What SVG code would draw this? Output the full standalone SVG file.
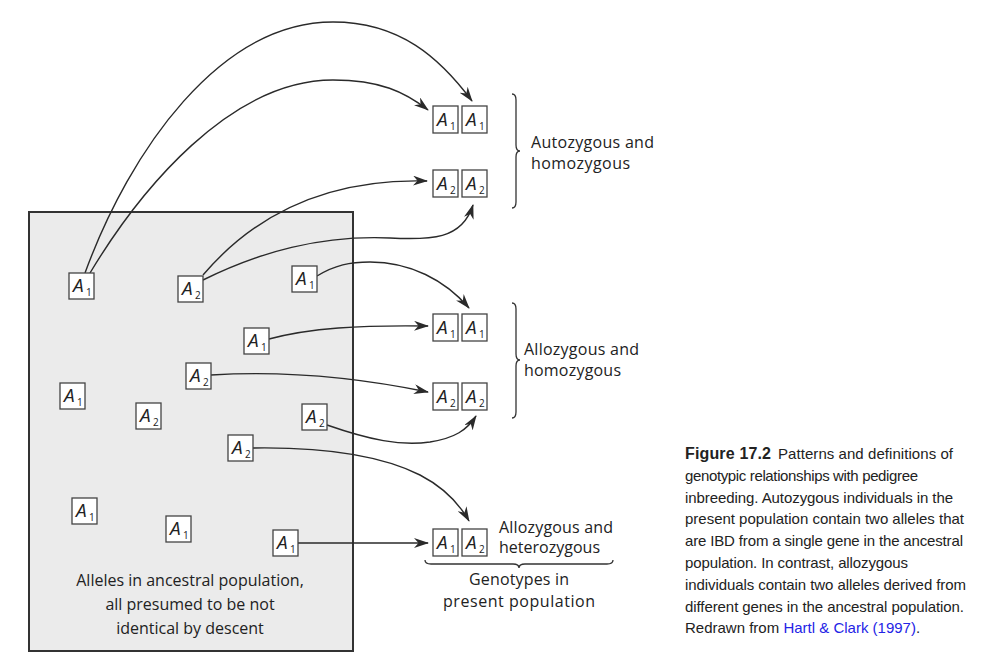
<svg xmlns="http://www.w3.org/2000/svg" width="997" height="670" viewBox="0 0 997 670">
<defs>
<marker id="ah" viewBox="0 0 15 10" refX="14" refY="5" markerWidth="15" markerHeight="10" markerUnits="userSpaceOnUse" orient="auto">
<path d="M0,0 L15,5 L0,10 L4.5,5 Z" fill="#2a2a2a"/>
</marker>
<style>
.bg{fill:#ebebeb;stroke:#333;stroke-width:2}
.box{fill:#fff;stroke:#444;stroke-width:1.3}
.al{font-family:"Open Sans","Liberation Sans",sans-serif;font-style:italic;font-size:19px;fill:#222}
.sub{font-family:"Open Sans","Liberation Sans",sans-serif;font-size:10px;fill:#222}
.lbl{font-family:"Open Sans","Liberation Sans",sans-serif;font-size:16px;fill:#222}
.mid{text-anchor:middle}
.cap{font-family:"Liberation Sans",Arial,sans-serif;font-size:15px;fill:#222}
.b{font-weight:bold;font-size:16px}
.lnk{fill:#2424e6}
.con{fill:none;stroke:#2a2a2a;stroke-width:1.4;marker-end:url(#ah)}
.brace{fill:none;stroke:#333;stroke-width:1.3}
</style>
</defs>
<rect width="997" height="670" fill="#fff"/>

<g id="ancestral-population">
<rect class="bg" x="29" y="212" width="324" height="439"/>
<text class="lbl mid" x="190" y="586" font-size="17.3">Alleles in ancestral population,</text>
<text class="lbl mid" x="190" y="610" font-size="17.3">all presumed to be not</text>
<text class="lbl mid" x="190" y="634" font-size="17.3">identical by descent</text>
</g>

<g id="connectors">
<path class="con" d="M85,273 C130,150 220,22 333,22 C400,22 440,58 472,101"/>
<path class="con" d="M90,273 C140,190 230,80 333,80 C380,80 405,92 428,110"/>
<path class="con" d="M203,275 C250,220 320,178 427,181"/>
<path class="con" d="M203,280 C260,252 320,235 390,238 C430,240 462,240 473,205"/>
<path class="con" d="M317,276 C335,265 350,262 370,262 C410,262 445,280 469,308"/>
<path class="con" d="M269,339 C310,328 360,325 428,326"/>
<path class="con" d="M211,375 C290,370 360,378 428,392"/>
<path class="con" d="M327,425 C370,440 400,446 430,442 C455,438 467,430 476,416"/>
<path class="con" d="M253,448 C320,447 380,455 420,475 C445,488 460,505 469,521"/>
<path class="con" d="M298,543 L428,543"/>
</g>

<g id="a1-n1"><rect class="box" x="69" y="273" width="25" height="26"/><text class="al" x="73" y="292">A</text><text class="sub" x="86" y="296">1</text></g>
<g id="a2-n2"><rect class="box" x="178" y="276" width="25" height="26"/><text class="al" x="182" y="295">A</text><text class="sub" x="195" y="299">2</text></g>
<g id="a1-n3"><rect class="box" x="292" y="266" width="25" height="26"/><text class="al" x="296" y="285">A</text><text class="sub" x="309" y="289">1</text></g>
<g id="a1-n4"><rect class="box" x="244" y="328" width="25" height="26"/><text class="al" x="248" y="347">A</text><text class="sub" x="261" y="351">1</text></g>
<g id="a2-n5"><rect class="box" x="186" y="363" width="25" height="26"/><text class="al" x="190" y="382">A</text><text class="sub" x="203" y="386">2</text></g>
<g id="a1-n6"><rect class="box" x="60" y="383" width="25" height="26"/><text class="al" x="64" y="402">A</text><text class="sub" x="77" y="406">1</text></g>
<g id="a2-n7"><rect class="box" x="136" y="403" width="25" height="26"/><text class="al" x="140" y="422">A</text><text class="sub" x="153" y="426">2</text></g>
<g id="a2-n8"><rect class="box" x="302" y="404" width="25" height="26"/><text class="al" x="306" y="423">A</text><text class="sub" x="319" y="427">2</text></g>
<g id="a2-n9"><rect class="box" x="228" y="435" width="25" height="26"/><text class="al" x="232" y="454">A</text><text class="sub" x="245" y="458">2</text></g>
<g id="a1-n10"><rect class="box" x="72" y="498" width="25" height="26"/><text class="al" x="76" y="517">A</text><text class="sub" x="89" y="521">1</text></g>
<g id="a1-n11"><rect class="box" x="166" y="516" width="25" height="26"/><text class="al" x="170" y="535">A</text><text class="sub" x="183" y="539">1</text></g>
<g id="a1-n12"><rect class="box" x="273" y="530" width="25" height="26"/><text class="al" x="277" y="549">A</text><text class="sub" x="290" y="553">1</text></g>

<g id="auto-homo-A1A1">
<rect class="box" x="433" y="106" width="25" height="27"/><text class="al" x="437" y="126">A</text><text class="sub" x="450" y="130">1</text>
<rect class="box" x="462" y="106" width="25" height="27"/><text class="al" x="466" y="126">A</text><text class="sub" x="479" y="130">1</text>
</g>
<g id="auto-homo-A2A2">
<rect class="box" x="433" y="170" width="25" height="27"/><text class="al" x="437" y="190">A</text><text class="sub" x="450" y="194">2</text>
<rect class="box" x="462" y="170" width="25" height="27"/><text class="al" x="466" y="190">A</text><text class="sub" x="479" y="194">2</text>
</g>
<g id="allo-homo-A1A1">
<rect class="box" x="433" y="314" width="25" height="27"/><text class="al" x="437" y="334">A</text><text class="sub" x="450" y="338">1</text>
<rect class="box" x="462" y="314" width="25" height="27"/><text class="al" x="466" y="334">A</text><text class="sub" x="479" y="338">1</text>
</g>
<g id="allo-homo-A2A2">
<rect class="box" x="433" y="383" width="25" height="27"/><text class="al" x="437" y="403">A</text><text class="sub" x="450" y="407">2</text>
<rect class="box" x="462" y="383" width="25" height="27"/><text class="al" x="466" y="403">A</text><text class="sub" x="479" y="407">2</text>
</g>
<g id="allo-hetero-A1A2">
<rect class="box" x="433" y="529" width="25" height="27"/><text class="al" x="437" y="549">A</text><text class="sub" x="450" y="553">1</text>
<rect class="box" x="462" y="529" width="25" height="27"/><text class="al" x="466" y="549">A</text><text class="sub" x="479" y="553">2</text>
</g>

<g id="label-autozygous">
<path class="brace" d="M512,94 Q516,94 516,100 L516,145 Q516,151 520,151 Q516,151 516,157 L516,202 Q516,208 512,208"/>
<text class="lbl" x="531" y="148" textLength="123">Autozygous and</text>
<text class="lbl" x="531" y="169" textLength="99">homozygous</text>
</g>
<g id="label-allozygous-homo">
<path class="brace" d="M512,303 Q516,303 516,309 L516,354 Q516,360 520,360 Q516,360 516,366 L516,412 Q516,418 512,418"/>
<text class="lbl" x="524" y="355" textLength="115">Allozygous and</text>
<text class="lbl" x="524" y="376" textLength="97">homozygous</text>
</g>
<g id="label-allozygous-hetero">
<text class="lbl" x="499" y="533" textLength="114">Allozygous and</text>
<text class="lbl" x="499" y="553" textLength="101">heterozygous</text>
</g>
<g id="label-genotypes">
<path class="brace" d="M425,560 Q425,564 431,564 L513,564 Q519,564 519,568 Q519,564 525,564 L607,564 Q613,564 613,560"/>
<text class="lbl mid" x="519" y="585" font-size="17" textLength="100">Genotypes in</text>
<text class="lbl mid" x="519" y="607" font-size="17" textLength="152">present population</text>
</g>

<g id="caption">
<text class="cap b" x="685" y="459" textLength="86">Figure 17.2</text>
<text class="cap" x="778" y="459" textLength="175">Patterns and definitions of</text>
<text class="cap" x="685" y="480.8" textLength="233">genotypic relationships with pedigree</text>
<text class="cap" x="685" y="502.6" textLength="268">inbreeding. Autozygous individuals in the</text>
<text class="cap" x="685" y="524.4" textLength="279">present population contain two alleles that</text>
<text class="cap" x="685" y="546.2" textLength="278">are IBD from a single gene in the ancestral</text>
<text class="cap" x="685" y="568" textLength="223">population. In contrast, allozygous</text>
<text class="cap" x="685" y="589.8" textLength="281">individuals contain two alleles derived from</text>
<text class="cap" x="685" y="611.6" textLength="279">different genes in the ancestral population.</text>
<text class="cap" x="685" y="633.4">Redrawn from <tspan class="lnk">Hartl &amp; Clark (1997)</tspan>.</text>
</g>
</svg>
